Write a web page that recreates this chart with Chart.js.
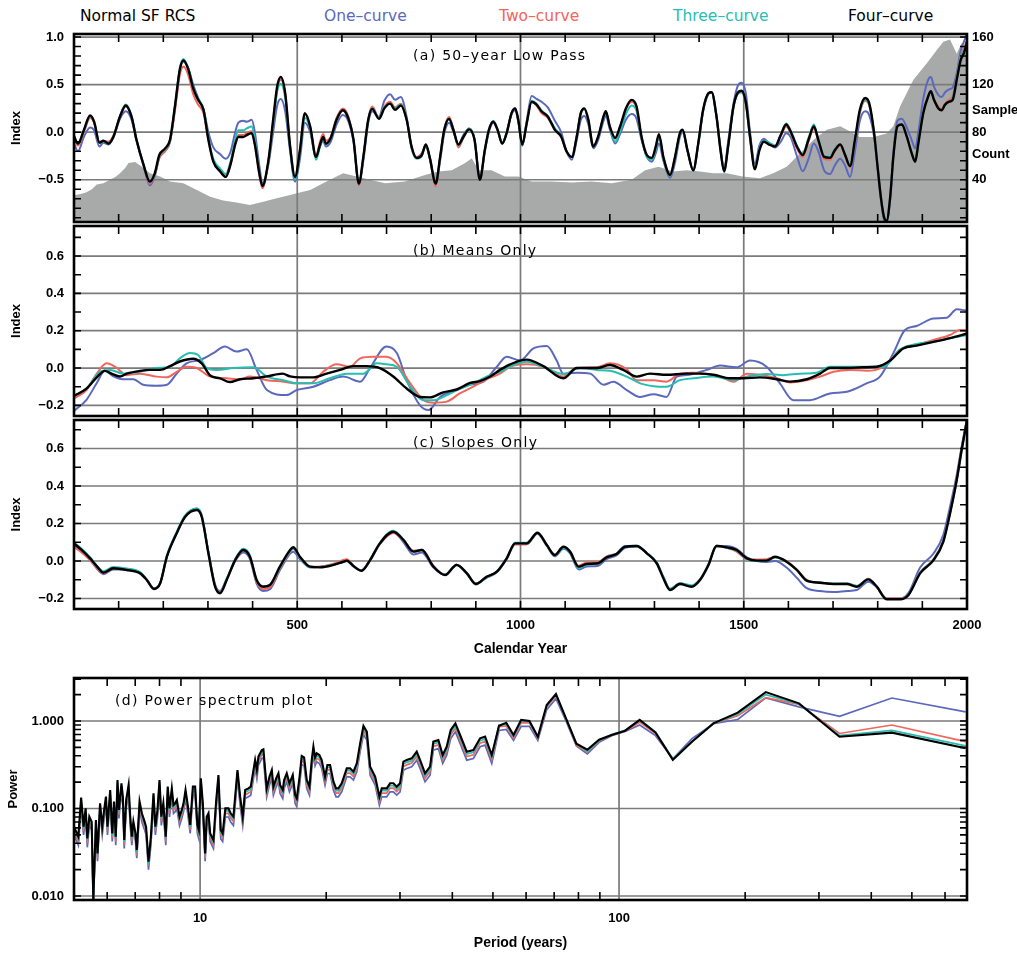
<!DOCTYPE html>
<html lang="en">
<head>
<meta charset="UTF-8">
<title>Normal SF RCS</title>
<script src="https://cdn.jsdelivr.net/npm/chart.js"></script>
<style>
  html, body { margin: 0; padding: 0; background: #fff; overflow: hidden; }
  #page { position: relative; width: 1017px; height: 953px; }
  canvas { position: absolute; left: 0; }
  .head { position: absolute; white-space: nowrap; font-family: 'DejaVu Sans', sans-serif; font-size: 15.5px; line-height: 18px; }
  .ptitle { position: absolute; white-space: nowrap; font-family: 'DejaVu Sans', sans-serif; font-size: 14px; line-height: 18px; letter-spacing: 1.3px; }
  .side { position: absolute; white-space: nowrap; font-family: 'Liberation Sans', Arial, sans-serif; font-weight: bold; font-size: 13px; line-height: 16px; }
</style>
</head>
<body>
<div id="page">
  <canvas id="chartA" width="1017" height="194" style="top:31px"></canvas>
  <canvas id="chartB" width="1017" height="196" style="top:223px"></canvas>
  <canvas id="chartC" width="1017" height="241" style="top:417px"></canvas>
  <canvas id="chartD" width="1017" height="277" style="top:675px"></canvas>

  <div class="head" style="left:80px;top:7px;color:#000">Normal SF RCS</div>
  <div class="head" style="left:324px;top:7px;color:#5b68bb">One–curve</div>
  <div class="head" style="left:499px;top:7px;color:#f2655b">Two–curve</div>
  <div class="head" style="left:673px;top:7px;color:#27bdb0">Three–curve</div>
  <div class="head" style="left:848px;top:7px;color:#000">Four–curve</div>

  <div class="ptitle" style="left:413px;top:46px">(a) 50–year Low Pass</div>
  <div class="ptitle" style="left:413px;top:241px">(b) Means Only</div>
  <div class="ptitle" style="left:413px;top:433px">(c) Slopes Only</div>
  <div class="ptitle" style="left:115px;top:691px">(d) Power spectrum plot</div>

  <div class="side" style="left:972px;top:102px">Sample</div>
  <div class="side" style="left:972px;top:146px">Count</div>
</div>

<script>
// ---------- (a) 50-year low pass ----------
const yearsA = [
  0,9,22,36,45,57,66,77,88,103,
  116,129,140,155,170,181,191,204,215,226,
  237,245,256,267,278,290,301,312,327,340,
  351,361,368,379,387,398,405,415,422,435,
  446,455,463,473,484,495,506,517,529,542,
  551,558,564,575,588,602,614,626,638,648,
  659,668,683,695,708,719,732,745,756,767,
  779,788,797,810,820,829,840,850,861,872,
  885,897,909,920,929,939,949,959,969,980,
  988,995,1004,1014,1025,1036,1047,1061,1077,1091,
  1103,1115,1126,1135,1143,1152,1163,1174,1186,1191,
  1200,1212,1223,1236,1249,1260,1271,1283,1294,1303,
  1310,1320,1335,1346,1357,1363,1374,1387,1398,1409,
  1421,1428,1439,1448,1456,1465,1477,1486,1495,1505,
  1514,1525,1535,1545,1557,1570,1583,1595,1605,1619,
  1632,1645,1657,1667,1680,1693,1704,1716,1727,1738,
  1749,1760,1772,1781,1792,1799,1807,1814,1820,1828,
  1835,1844,1854,1865,1876,1884,1891,1902,1913,1919,
  1926,1936,1943,1951,1960,1968,1977,1986,1993,2000
];
const lowPassOne = [
  -0.12,-0.20,-0.05,0.05,0.02,-0.15,-0.11,-0.13,-0.06,0.14,
  0.22,0.13,-0.09,-0.34,-0.56,-0.46,-0.27,-0.20,-0.10,0.25,
  0.65,0.74,0.67,0.50,0.36,0.24,0.0,-0.16,-0.23,-0.28,
  -0.20,0.0,0.10,0.12,0.11,0.13,0.0,-0.35,-0.54,-0.35,
  0.0,0.28,0.35,0.22,-0.20,-0.52,-0.28,0.10,0.0,-0.26,
  -0.15,-0.09,-0.15,-0.10,0.08,0.18,0.12,-0.10,-0.54,-0.30,
  0.10,0.22,0.16,0.33,0.40,0.34,0.37,0.16,-0.17,-0.27,
  -0.22,-0.15,-0.28,-0.55,-0.30,-0.02,0.10,0.0,-0.13,-0.03,
  0.04,-0.07,-0.50,-0.21,0.0,0.10,0.02,-0.12,0.0,0.19,
  0.23,0.11,-0.14,0.12,0.38,0.35,0.32,0.26,0.12,0.0,
  -0.20,-0.29,-0.08,0.13,0.17,0.08,-0.17,-0.08,0.12,0.17,
  0.03,-0.12,-0.02,0.13,0.19,0.14,-0.08,-0.26,-0.31,-0.22,
  -0.12,-0.30,-0.48,-0.32,-0.05,0.0,-0.20,-0.40,-0.13,0.22,
  0.40,0.42,0.17,-0.17,-0.38,-0.10,0.30,0.48,0.52,0.40,
  0.0,-0.33,-0.14,-0.07,-0.12,-0.16,-0.10,-0.01,-0.05,-0.25,
  -0.41,-0.28,-0.12,-0.20,-0.40,-0.44,-0.35,-0.28,-0.35,-0.47,
  -0.20,0.12,0.22,0.18,-0.05,-0.34,-0.70,-0.92,-0.95,-0.70,
  -0.22,0.12,0.14,0.05,-0.08,-0.17,0.0,0.35,0.55,0.58,
  0.48,0.39,0.37,0.42,0.45,0.47,0.62,0.86,0.95,1.03
];
const lowPassTwo = [
  -0.07,-0.14,0.0,0.15,0.10,-0.10,-0.09,-0.10,-0.04,0.16,
  0.27,0.16,-0.08,-0.33,-0.54,-0.45,-0.27,-0.20,-0.10,0.22,
  0.60,0.69,0.60,0.40,0.29,0.20,-0.08,-0.30,-0.41,-0.47,
  -0.33,-0.12,-0.03,-0.03,-0.01,0.01,-0.12,-0.45,-0.59,-0.32,
  0.10,0.44,0.55,0.40,-0.14,-0.48,-0.18,0.19,0.06,-0.25,
  -0.10,-0.02,-0.09,-0.05,0.15,0.25,0.17,-0.08,-0.56,-0.26,
  0.14,0.27,0.15,0.27,0.32,0.26,0.30,0.14,-0.15,-0.26,
  -0.23,-0.13,-0.28,-0.57,-0.26,0.03,0.16,0.03,-0.16,-0.06,
  0.03,-0.08,-0.50,-0.19,0.02,0.11,0.02,-0.12,-0.01,0.20,
  0.25,0.13,-0.13,0.10,0.32,0.28,0.20,0.15,0.02,-0.05,
  -0.20,-0.26,-0.04,0.20,0.24,0.12,-0.15,-0.04,0.17,0.22,
  0.06,-0.07,0.05,0.24,0.32,0.25,-0.05,-0.25,-0.28,-0.16,
  -0.03,-0.27,-0.45,-0.27,-0.02,0.02,-0.19,-0.40,-0.12,0.23,
  0.41,0.42,0.16,-0.19,-0.41,-0.15,0.27,0.40,0.42,0.29,
  -0.05,-0.38,-0.18,-0.10,-0.13,-0.15,-0.04,0.06,-0.01,-0.17,
  -0.26,-0.10,0.04,-0.09,-0.28,-0.29,-0.20,-0.14,-0.25,-0.37,
  -0.10,0.20,0.33,0.28,-0.02,-0.33,-0.68,-0.89,-0.93,-0.68,
  -0.26,0.06,0.08,-0.04,-0.21,-0.30,-0.11,0.21,0.38,0.43,
  0.35,0.27,0.24,0.30,0.34,0.38,0.58,0.80,0.88,0.97
];
const lowPassThree = [
  -0.05,-0.12,0.02,0.17,0.11,-0.11,-0.10,-0.12,-0.05,0.17,
  0.29,0.17,-0.08,-0.33,-0.52,-0.44,-0.25,-0.18,-0.09,0.27,
  0.67,0.77,0.67,0.47,0.35,0.24,-0.06,-0.28,-0.38,-0.44,
  -0.30,-0.08,0.02,0.02,0.04,0.06,-0.08,-0.42,-0.56,-0.32,
  0.10,0.43,0.51,0.36,-0.17,-0.50,-0.22,0.15,0.04,-0.29,
  -0.15,-0.06,-0.13,-0.06,0.13,0.23,0.15,-0.08,-0.54,-0.27,
  0.13,0.25,0.15,0.26,0.30,0.25,0.29,0.13,-0.16,-0.28,
  -0.25,-0.14,-0.27,-0.54,-0.26,0.02,0.14,0.02,-0.14,-0.05,
  0.04,-0.07,-0.50,-0.19,0.02,0.12,0.03,-0.12,0.0,0.20,
  0.25,0.12,-0.14,0.10,0.33,0.30,0.23,0.17,0.04,-0.04,
  -0.20,-0.26,-0.04,0.20,0.24,0.12,-0.15,-0.05,0.15,0.20,
  0.05,-0.10,0.01,0.19,0.28,0.22,-0.06,-0.26,-0.29,-0.18,
  -0.05,-0.28,-0.46,-0.27,-0.02,0.02,-0.19,-0.41,-0.13,0.23,
  0.41,0.42,0.16,-0.19,-0.42,-0.15,0.26,0.40,0.42,0.29,
  -0.06,-0.38,-0.17,-0.09,-0.11,-0.14,-0.02,0.09,0.02,-0.14,
  -0.23,-0.06,0.08,-0.07,-0.25,-0.26,-0.18,-0.13,-0.23,-0.35,
  -0.09,0.22,0.34,0.29,-0.02,-0.33,-0.68,-0.89,-0.93,-0.68,
  -0.26,0.06,0.08,-0.04,-0.21,-0.30,-0.11,0.21,0.38,0.43,
  0.34,0.25,0.23,0.29,0.32,0.36,0.57,0.79,0.86,0.92
];
const lowPassFour = [
  -0.04,-0.12,0.02,0.175,0.11,-0.11,-0.09,-0.12,-0.05,0.165,
  0.28,0.16,-0.08,-0.33,-0.52,-0.43,-0.24,-0.17,-0.08,0.27,
  0.66,0.755,0.66,0.46,0.34,0.235,-0.08,-0.31,-0.41,-0.47,
  -0.33,-0.13,-0.05,-0.05,-0.03,-0.01,-0.13,-0.43,-0.565,-0.31,
  0.13,0.48,0.58,0.41,-0.15,-0.47,-0.19,0.20,0.06,-0.26,
  -0.13,-0.05,-0.12,-0.06,0.13,0.23,0.15,-0.08,-0.54,-0.26,
  0.13,0.245,0.14,0.25,0.30,0.235,0.28,0.13,-0.15,-0.27,
  -0.24,-0.13,-0.27,-0.54,-0.26,0.02,0.14,0.02,-0.13,-0.05,
  0.03,-0.08,-0.50,-0.19,0.02,0.11,0.02,-0.12,-0.01,0.20,
  0.25,0.13,-0.13,0.095,0.32,0.29,0.22,0.165,0.025,-0.045,
  -0.20,-0.26,-0.045,0.20,0.25,0.13,-0.15,-0.045,0.165,0.22,
  0.06,-0.06,0.06,0.25,0.34,0.27,-0.045,-0.24,-0.27,-0.15,
  -0.02,-0.26,-0.45,-0.26,-0.01,0.025,-0.19,-0.40,-0.12,0.235,
  0.41,0.42,0.165,-0.19,-0.41,-0.15,0.27,0.41,0.435,0.305,
  -0.045,-0.39,-0.19,-0.10,-0.13,-0.15,-0.03,0.08,0.007,-0.15,
  -0.24,-0.08,0.06,-0.08,-0.26,-0.27,-0.19,-0.13,-0.24,-0.355,
  -0.08,0.235,0.36,0.305,-0.01,-0.33,-0.68,-0.89,-0.93,-0.68,
  -0.26,0.06,0.08,-0.045,-0.22,-0.31,-0.12,0.20,0.375,0.43,
  0.34,0.25,0.23,0.29,0.32,0.34,0.55,0.76,0.83,0.95
];
// sample count (right axis), [year, count]
const sampleCount = [
  [0,27],[15,28],[28,29.5],[40,32],[51,36],[66,37],[81,40],[95,43],[103,45.5],[115,50],
  [122,54],[137,55],[152,51],[170,45.5],[193,42.7],[215,38.5],[245,37],[275,31.4],[305,25.8],[334,22.5],
  [364,20.8],[394,18.8],[424,21.6],[454,24.4],[484,27.2],[499,28.6],[529,31.4],[558,37],[588,42.7],[603,45.5],
  [633,42.7],[663,40],[697,37],[741,38.5],[786,44],[816,47],[846,48],[876,54],[891,58],[906,48],
  [935,48],[965,42.7],[995,42.7],[1025,38.5],[1070,38.5],[1115,37.6],[1159,38.5],[1204,37],[1249,40],[1279,48],
  [1309,51],[1342,47],[1372,48],[1402,47],[1432,45.5],[1462,45.5],[1497,42.7],[1536,41.3],[1566,45.5],[1596,51],
  [1626,62],[1656,73.5],[1686,82],[1716,85],[1731,82],[1760,76],[1790,76],[1820,79],[1835,85],[1850,101.6],
  [1880,124],[1910,138],[1932,149],[1947,156],[1962,158],[1977,146],[1988,155],[2000,149]
];

// ---------- (b) means only, [year, index] ----------
const meansOne = [
  [0,-0.23],[28,-0.17],[51,-0.08],[69,-0.015],[88,-0.045],[110,-0.06],[133,-0.06],[155,-0.09],[185,-0.095],[208,-0.09],
  [230,-0.03],[252,0.025],[282,0.043],[312,0.08],[338,0.115],[364,0.088],[387,0.1],[409,-0.01],[432,-0.118],[476,-0.145],
  [499,-0.118],[536,-0.1],[573,-0.065],[603,-0.046],[641,-0.073],[663,0.0],[700,0.115],[723,0.08],[745,-0.065],[775,-0.2],
  [794,-0.225],[820,-0.155],[857,-0.118],[887,-0.09],[917,-0.073],[947,0.007],[969,0.06],[999,0.04],[1029,0.105],[1059,0.118],
  [1081,0.04],[1096,-0.03],[1126,-0.025],[1156,-0.03],[1186,-0.09],[1208,-0.073],[1238,-0.118],[1268,-0.155],[1298,-0.14],[1327,-0.155],
  [1350,-0.046],[1372,-0.038],[1417,-0.01],[1447,0.013],[1484,0.004],[1514,0.04],[1551,0.007],[1581,-0.082],[1611,-0.172],[1648,-0.172],
  [1693,-0.136],[1731,-0.127],[1775,-0.082],[1805,-0.046],[1835,0.08],[1861,0.204],[1887,0.225],[1925,0.266],[1955,0.27],[1977,0.315],
  [2000,0.307]
];
const meansTwo = [
  [0,-0.163],[28,-0.118],[51,-0.03],[73,0.025],[92,0.007],[118,-0.038],[148,-0.03],[185,-0.046],[208,-0.05],[230,-0.02],
  [252,0.007],[275,0.0],[305,-0.046],[342,-0.055],[372,-0.06],[394,-0.046],[432,-0.065],[469,-0.073],[499,-0.082],[529,-0.082],
  [558,-0.02],[588,0.02],[618,0.007],[641,0.052],[670,0.06],[700,0.06],[723,0.025],[753,-0.082],[782,-0.17],[805,-0.186],
  [835,-0.18],[864,-0.136],[894,-0.1],[924,-0.06],[954,-0.03],[977,0.007],[1014,0.02],[1051,0.007],[1096,-0.046],[1126,0.0],
  [1171,0.004],[1200,0.025],[1238,-0.007],[1260,-0.065],[1298,-0.065],[1327,-0.073],[1357,-0.03],[1387,-0.025],[1417,-0.032],[1447,-0.046],
  [1477,-0.073],[1507,-0.03],[1544,-0.038],[1574,-0.055],[1604,-0.077],[1641,-0.065],[1671,-0.046],[1701,-0.02],[1738,-0.01],[1775,-0.015],
  [1813,0.007],[1850,0.097],[1887,0.123],[1925,0.15],[1962,0.177],[1984,0.204],[2000,0.204]
];
const meansThree = [
  [0,-0.148],[28,-0.11],[58,-0.02],[81,-0.01],[110,-0.03],[148,-0.02],[185,0.0],[215,0.007],[237,0.052],[260,0.08],
  [278,0.07],[297,0.0],[320,-0.01],[357,0.0],[402,0.004],[432,-0.046],[469,-0.065],[499,-0.082],[536,-0.082],[573,-0.055],
  [611,-0.03],[648,-0.03],[678,0.025],[700,0.02],[723,0.007],[753,-0.1],[782,-0.172],[805,-0.172],[835,-0.145],[864,-0.11],
  [894,-0.082],[924,-0.046],[954,-0.02],[984,0.016],[1014,0.034],[1051,0.007],[1096,-0.032],[1133,0.0],[1171,-0.01],[1200,-0.015],
  [1238,-0.046],[1268,-0.082],[1298,-0.097],[1327,-0.1],[1357,-0.065],[1387,-0.055],[1432,-0.046],[1477,-0.065],[1507,-0.046],[1551,-0.032],
  [1589,-0.038],[1626,-0.03],[1663,-0.025],[1693,0.007],[1738,0.007],[1775,0.007],[1813,0.007],[1850,0.1],[1887,0.129],[1925,0.141],
  [1962,0.16],[2000,0.177]
];
const meansFour = [
  [0,-0.15],[28,-0.11],[51,-0.05],[69,-0.015],[84,-0.03],[103,-0.045],[118,-0.03],[148,-0.015],[170,-0.01],[193,-0.01],
  [215,0.01],[237,0.035],[267,0.05],[286,0.025],[305,-0.04],[327,-0.055],[349,-0.075],[372,-0.06],[402,-0.055],[432,-0.045],
  [467,-0.03],[484,-0.045],[506,-0.05],[536,-0.05],[566,-0.03],[596,-0.01],[626,0.01],[655,0.01],[685,0.0],[715,-0.045],
  [745,-0.11],[775,-0.155],[797,-0.157],[827,-0.13],[857,-0.115],[887,-0.08],[909,-0.07],[932,-0.045],[954,-0.01],[977,0.02],
  [1014,0.045],[1051,0.01],[1096,-0.055],[1126,0.0],[1171,0.0],[1200,0.016],[1230,-0.01],[1260,-0.046],[1290,-0.03],[1327,-0.036],
  [1372,-0.03],[1402,-0.03],[1432,-0.036],[1469,-0.055],[1499,-0.055],[1536,-0.05],[1574,-0.06],[1604,-0.073],[1641,-0.06],[1671,-0.03],
  [1693,0.0],[1731,0.0],[1768,0.004],[1798,0.007],[1828,0.04],[1857,0.105],[1887,0.12],[1925,0.14],[1962,0.16],[2000,0.185]
];

// ---------- (c) slopes only ----------
const yearsC = [
  0,17,36,51,66,88,118,148,163,179,
  193,208,230,249,275,286,301,316,327,342,
  361,379,394,409,424,439,461,484,491,506,
  529,551,581,603,611,626,644,663,685,715,
  738,760,779,805,831,857,880,900,924,947,
  969,988,1014,1038,1059,1077,1096,1111,1130,1148,
  1174,1193,1215,1234,1260,1283,1305,1320,1335,1357,
  1383,1402,1421,1439,1462,1484,1507,1529,1551,1570,
  1596,1619,1641,1671,1701,1731,1753,1779,1798,1820,
  1850,1869,1895,1925,1947,1962,1977,1988,2000
];
const slopesOne = [
  0.085,0.05,0.005,-0.04,-0.07,-0.045,-0.045,-0.06,-0.1,-0.145,
  -0.119,0.023,0.15,0.24,0.28,0.245,0.05,-0.125,-0.16,-0.095,
  0.0,0.045,0.01,-0.12,-0.16,-0.15,-0.05,0.04,0.05,0.01,
  -0.035,-0.03,-0.02,-0.005,0.0,-0.03,-0.05,0.0,0.09,0.155,
  0.1,0.035,0.045,-0.035,-0.075,-0.02,-0.07,-0.12,-0.09,-0.06,
  0.01,0.09,0.09,0.145,0.08,0.025,0.065,0.04,-0.045,-0.03,
  -0.025,0.01,0.03,0.07,0.078,0.04,-0.01,-0.085,-0.15,-0.12,
  -0.135,-0.1,-0.02,0.078,0.08,0.065,0.02,0.0,-0.005,0.0,
  -0.035,-0.09,-0.145,-0.16,-0.165,-0.16,-0.155,-0.11,-0.14,-0.2,
  -0.2,-0.17,-0.035,0.04,0.14,0.29,0.46,0.61,0.76
];
const slopesTwo = [
  0.075,0.045,0.005,-0.035,-0.065,-0.04,-0.045,-0.065,-0.1,-0.147,
  -0.119,0.023,0.148,0.238,0.275,0.24,0.045,-0.13,-0.165,-0.1,
  0.003,0.055,0.02,-0.11,-0.15,-0.14,-0.04,0.05,0.065,0.02,
  -0.03,-0.03,-0.015,0.005,0.01,-0.025,-0.05,0.005,0.09,0.15,
  0.11,0.055,0.06,-0.025,-0.075,-0.02,-0.065,-0.12,-0.085,-0.057,
  0.012,0.09,0.09,0.15,0.085,0.035,0.075,0.05,-0.025,-0.008,
  -0.005,0.025,0.04,0.078,0.08,0.041,-0.01,-0.09,-0.15,-0.12,
  -0.133,-0.1,-0.02,0.08,0.07,0.05,0.01,0.008,0.01,0.02,
  0.0,-0.045,-0.1,-0.115,-0.122,-0.12,-0.133,-0.095,-0.137,-0.2,
  -0.2,-0.178,-0.06,0.01,0.11,0.26,0.44,0.6,0.755
];
const slopesThree = [
  0.1,0.065,0.02,-0.025,-0.055,-0.032,-0.04,-0.06,-0.1,-0.147,
  -0.117,0.03,0.155,0.243,0.28,0.24,0.045,-0.135,-0.168,-0.095,
  0.01,0.066,0.03,-0.1,-0.135,-0.125,-0.035,0.052,0.068,0.018,
  -0.032,-0.032,-0.02,-0.004,0.0,-0.028,-0.052,0.005,0.097,0.162,
  0.115,0.052,0.06,-0.03,-0.072,-0.02,-0.066,-0.125,-0.086,-0.055,
  0.016,0.098,0.098,0.15,0.085,0.03,0.07,0.045,-0.038,-0.02,
  -0.015,0.02,0.04,0.08,0.082,0.043,-0.008,-0.085,-0.148,-0.118,
  -0.13,-0.097,-0.017,0.083,0.07,0.055,0.01,0.0,0.0,0.02,
  -0.005,-0.05,-0.105,-0.115,-0.12,-0.12,-0.133,-0.097,-0.137,-0.203,
  -0.203,-0.18,-0.063,0.008,0.105,0.255,0.43,0.59,0.75
];
const slopesFour = [
  0.094,0.059,0.014,-0.027,-0.062,-0.039,-0.048,-0.066,-0.101,-0.149,
  -0.119,0.023,0.148,0.236,0.272,0.236,0.041,-0.137,-0.172,-0.101,
  0.005,0.059,0.023,-0.101,-0.137,-0.128,-0.03,0.059,0.073,0.023,
  -0.03,-0.034,-0.021,-0.004,0.002,-0.027,-0.052,0.005,0.094,0.156,
  0.112,0.05,0.059,-0.03,-0.075,-0.021,-0.066,-0.123,-0.084,-0.057,
  0.014,0.094,0.094,0.151,0.085,0.032,0.076,0.05,-0.03,-0.016,
  -0.012,0.02,0.037,0.076,0.08,0.041,-0.012,-0.092,-0.155,-0.123,
  -0.137,-0.101,-0.021,0.08,0.073,0.059,0.014,0.002,0.002,0.023,
  -0.004,-0.048,-0.105,-0.116,-0.123,-0.123,-0.137,-0.098,-0.137,-0.204,
  -0.204,-0.181,-0.066,0.005,0.103,0.254,0.432,0.592,0.75
];

// ---------- (d) power spectrum ----------
const periods = [
  5.00,5.12,5.20,5.27,5.33,5.38,5.44,5.51,5.56,5.64,
  5.69,5.77,5.84,5.90,5.96,6.01,6.10,6.17,6.23,6.29,
  6.35,6.40,6.49,6.54,6.59,6.66,6.75,6.81,6.87,6.93,
  7.01,7.06,7.17,7.26,7.37,7.43,7.53,7.63,7.74,7.82,
  7.91,8.00,8.08,8.17,8.28,8.37,8.45,8.56,8.64,8.72,
  8.80,8.93,9.04,9.13,9.23,9.33,9.47,9.61,9.73,9.85,
  9.93,10.04,10.15,10.28,10.37,10.47,10.57,10.76,10.92,11.06,
  11.20,11.32,11.49,11.68,11.83,12.01,12.28,12.46,12.64,12.81,
  13.04,13.21,13.41,13.53,13.66,13.78,13.91,14.04,14.16,14.42,
  14.64,14.83,14.96,15.19,15.38,15.52,15.75,15.87,16.10,16.34,
  16.64,16.86,17.01,17.26,17.48,17.71,17.97,18.24,18.47,18.64,
  18.81,18.98,19.26,19.51,19.87,20.13,20.43,20.81,21.11,21.38,
  21.78,22.39,22.80,23.23,23.66,24.10,24.54,25.00,25.46,26.17,
  26.79,27.14,27.89,28.41,28.93,29.47,30.01,30.57,31.13,32.00,
  32.89,33.62,34.43,35.39,36.04,37.05,37.94,38.78,39.65,40.68,
  41.74,43.30,44.91,46.59,47.89,49.68,51.7,53.8,56.0,58.4,
  61.1,64.0,67.2,70.7,74.7,79.1,84.0,89.6,96.0,103.4,
  112.0,122.2,134.4,149.3,168.0,192.0,224.0,268.8,336.0,448.0,
  672.0
];
const powerOne = [
  0.05,0.038,0.106,0.05,0.08,0.036,0.064,0.057,0.008,0.059,
  0.025,0.092,0.05,0.077,0.109,0.05,0.13,0.042,0.096,0.038,
  0.169,0.077,0.155,0.109,0.035,0.1,0.148,0.064,0.038,0.057,
  0.042,0.027,0.096,0.07,0.057,0.05,0.02,0.038,0.119,0.05,
  0.077,0.169,0.064,0.092,0.038,0.142,0.08,0.136,0.088,0.092,
  0.1,0.064,0.077,0.092,0.13,0.092,0.052,0.142,0.142,0.052,
  0.045,0.177,0.092,0.025,0.064,0.07,0.042,0.035,0.096,0.193,
  0.045,0.042,0.08,0.08,0.07,0.064,0.22,0.109,0.064,0.13,
  0.136,0.142,0.22,0.287,0.22,0.313,0.342,0.373,0.38,0.136,
  0.185,0.22,0.142,0.177,0.202,0.148,0.13,0.169,0.202,0.155,
  0.193,0.114,0.105,0.177,0.318,0.308,0.169,0.142,0.287,0.407,
  0.308,0.342,0.327,0.287,0.185,0.251,0.251,0.162,0.136,0.136,
  0.155,0.23,0.23,0.211,0.263,0.444,0.70,0.604,0.24,0.185,
  0.109,0.136,0.136,0.155,0.155,0.142,0.155,0.274,0.287,0.30,
  0.357,0.274,0.202,0.24,0.464,0.485,0.327,0.407,0.631,0.752,
  0.553,0.357,0.373,0.507,0.53,0.327,0.78,0.8,0.6,0.87,
  0.87,0.6,1.35,1.8,1.0,0.52,0.42,0.57,0.68,0.76,
  0.9,0.68,0.37,0.63,0.93,1.04,1.84,1.45,1.13,1.83,
  1.27
];
const powerTwo = [
  0.055,0.042,0.117,0.055,0.088,0.04,0.071,0.062,0.008,0.065,
  0.027,0.101,0.055,0.085,0.12,0.055,0.143,0.046,0.105,0.042,
  0.186,0.085,0.171,0.12,0.038,0.11,0.163,0.071,0.042,0.062,
  0.046,0.029,0.105,0.078,0.062,0.055,0.022,0.042,0.131,0.055,
  0.085,0.186,0.071,0.101,0.042,0.156,0.088,0.15,0.096,0.101,
  0.11,0.071,0.085,0.101,0.143,0.101,0.057,0.156,0.156,0.057,
  0.05,0.195,0.101,0.027,0.071,0.078,0.046,0.038,0.105,0.213,
  0.05,0.046,0.088,0.088,0.078,0.071,0.242,0.12,0.071,0.143,
  0.15,0.156,0.242,0.315,0.242,0.344,0.376,0.41,0.418,0.15,
  0.203,0.242,0.156,0.195,0.222,0.163,0.143,0.186,0.222,0.171,
  0.213,0.126,0.115,0.195,0.35,0.338,0.186,0.156,0.315,0.448,
  0.338,0.376,0.36,0.315,0.203,0.277,0.277,0.178,0.15,0.15,
  0.171,0.253,0.253,0.232,0.289,0.489,0.77,0.665,0.265,0.203,
  0.12,0.15,0.15,0.171,0.171,0.156,0.171,0.302,0.315,0.33,
  0.393,0.302,0.222,0.265,0.511,0.534,0.36,0.448,0.694,0.828,
  0.609,0.393,0.41,0.558,0.583,0.36,0.86,0.88,0.64,0.95,
  0.95,0.63,1.45,1.95,1.05,0.53,0.44,0.59,0.69,0.77,
  0.97,0.72,0.365,0.58,0.94,1.15,1.85,1.55,0.72,0.9,
  0.58
];
const powerThree = [
  0.058,0.045,0.125,0.058,0.094,0.043,0.076,0.066,0.0085,0.069,
  0.029,0.108,0.058,0.09,0.128,0.058,0.153,0.049,0.113,0.045,
  0.199,0.09,0.182,0.128,0.041,0.118,0.174,0.076,0.045,0.066,
  0.049,0.031,0.113,0.083,0.066,0.058,0.023,0.045,0.14,0.058,
  0.09,0.199,0.076,0.108,0.045,0.167,0.094,0.16,0.103,0.108,
  0.118,0.076,0.09,0.108,0.153,0.108,0.061,0.167,0.167,0.061,
  0.053,0.208,0.108,0.029,0.076,0.083,0.049,0.041,0.113,0.227,
  0.053,0.049,0.094,0.094,0.083,0.076,0.259,0.128,0.076,0.153,
  0.16,0.167,0.259,0.337,0.259,0.368,0.401,0.438,0.446,0.16,
  0.217,0.259,0.167,0.208,0.237,0.174,0.153,0.199,0.237,0.182,
  0.227,0.134,0.123,0.208,0.374,0.361,0.199,0.167,0.337,0.478,
  0.361,0.401,0.384,0.337,0.217,0.295,0.295,0.19,0.16,0.16,
  0.182,0.27,0.27,0.248,0.309,0.522,0.824,0.71,0.283,0.217,
  0.128,0.16,0.16,0.182,0.182,0.167,0.182,0.322,0.337,0.352,
  0.419,0.322,0.237,0.283,0.546,0.57,0.384,0.478,0.742,0.884,
  0.65,0.419,0.438,0.596,0.622,0.384,0.9,0.92,0.67,1.0,
  0.98,0.65,1.5,2.0,1.07,0.55,0.45,0.6,0.7,0.78,
  1.02,0.74,0.37,0.58,0.94,1.2,2.0,1.57,0.68,0.78,
  0.52
];
const powerFour = [
  0.062,0.0477,0.133,0.062,0.1004,0.0456,0.0806,0.0707,0.009,0.0739,
  0.0307,0.1146,0.062,0.0961,0.1365,0.062,0.1627,0.052,0.1197,0.0477,
  0.2117,0.0961,0.194,0.1365,0.0436,0.125,0.1856,0.0806,0.0477,0.0707,
  0.052,0.0335,0.1197,0.0881,0.0707,0.062,0.0247,0.0477,0.149,0.062,
  0.0961,0.2117,0.0806,0.1146,0.0477,0.1777,0.1004,0.17,0.1096,0.1146,
  0.125,0.0806,0.0961,0.1146,0.1627,0.1146,0.0648,0.1777,0.1777,0.0648,
  0.0568,0.2212,0.1146,0.0307,0.0806,0.0881,0.052,0.0436,0.1197,0.2415,
  0.0568,0.052,0.1004,0.1004,0.0881,0.0806,0.2754,0.1365,0.0806,0.1627,
  0.17,0.1777,0.2754,0.3583,0.2754,0.3913,0.4271,0.4662,0.4745,0.17,
  0.231,0.2754,0.1777,0.2212,0.2523,0.1856,0.1627,0.2117,0.2523,0.194,
  0.2415,0.1427,0.1307,0.2212,0.398,0.3844,0.2117,0.1777,0.3583,0.5087,
  0.3844,0.4271,0.4088,0.3583,0.231,0.3143,0.3143,0.2026,0.17,0.17,
  0.194,0.2877,0.2877,0.2636,0.3282,0.5556,0.877,0.7552,0.3006,0.231,
  0.1365,0.17,0.17,0.194,0.194,0.1777,0.194,0.3428,0.3583,0.3745,
  0.4461,0.3428,0.2523,0.3006,0.5805,0.6066,0.4088,0.5087,0.789,0.9404,
  0.6918,0.4461,0.4662,0.6337,0.6622,0.4088,0.88,0.955,0.69,1.03,
  1.0,0.66,1.52,2.03,1.07,0.55,0.47,0.61,0.69,0.775,
  1.03,0.74,0.36,0.58,0.94,1.245,2.14,1.59,0.66,0.736,
  0.487
];

// ---------- tick labels ----------
const indexTicksA = [-0.5, 0, 0.5, 1.0];
const countTicks = [40, 80, 120, 160];
const indexTicksBC = [-0.2, 0, 0.2, 0.4, 0.6];
const yearTicks = [500, 1000, 1500, 2000];
const periodTicks = [10, 100];
const powerTicks = [0.01, 0.1, 1];

// minor tick marks
const centuryMarks = [];
for (let y = 100; y < 2000; y += 100) centuryMarks.push(y);
const tenthsA = [];
for (let v = -9; v <= 10; v++) tenthsA.push(v / 10);
const tenthsBC = [];
for (let v = -2; v <= 7; v++) tenthsBC.push(v / 10);
const periodMarks = [6, 7, 8, 9, 20, 30, 40, 50, 60, 70, 80, 90, 200, 300, 400, 500, 600];
const powerMarks = [];
[0.01, 0.1, 1].forEach(d => { for (let m = 1; m <= 9; m++) { if (m * d <= 3.1) powerMarks.push(m * d); } });

const COLORS = { one: '#5b68bb', two: '#f2655b', three: '#27bdb0', four: '#000000' };
const FONT = "'Liberation Sans', Arial, sans-serif";
const tickFont = { family: FONT, size: 13, weight: 'bold' };

function pts(xs, ys) {
  if (xs.length !== ys.length) throw new Error('length mismatch ' + xs.length + ' / ' + ys.length);
  return xs.map((x, i) => ({ x: x, y: ys[i] }));
}
function pairs(arr) { return arr.map(p => ({ x: p[0], y: p[1] })); }

function curve(data, color, width, order, smooth) {
  return {
    data: data, borderColor: color, borderWidth: width, pointRadius: 0, fill: false, order: order,
    cubicInterpolationMode: smooth ? 'monotone' : 'default', tension: smooth ? 0.4 : 0
  };
}

function fourCurves(d1, d2, d3, d4, smooth, w) {
  return [
    curve(d1, COLORS.one, w, 3, smooth),
    curve(d2, COLORS.two, w, 2, smooth),
    curve(d3, COLORS.three, w, 1, smooth),
    curve(d4, COLORS.four, w + 0.4, 0, smooth)
  ];
}

// fixed axis sizes, no extra label padding so chart areas land where they should
function fixWidth(w) {
  return s => { s.width = w; s.paddingTop = 0; s.paddingBottom = 0; };
}
function fixHeight(h) {
  return s => { s.height = h; s.paddingLeft = 0; s.paddingRight = 0; };
}

// grid lines, inward tick marks and heavy frame
function framePlugin(cfg) {
  function grid(chart) {
    const ctx = chart.ctx, a = chart.chartArea;
    const xs = chart.scales.x, ys = chart.scales.y;
    ctx.save();
    ctx.strokeStyle = '#7b7b7b';
    ctx.lineWidth = 1.7;
    ctx.beginPath();
    cfg.xGrid.forEach(v => { const px = xs.getPixelForValue(v); ctx.moveTo(px, a.top); ctx.lineTo(px, a.bottom); });
    cfg.yGrid.forEach(v => { const py = ys.getPixelForValue(v); ctx.moveTo(a.left, py); ctx.lineTo(a.right, py); });
    ctx.stroke();
    ctx.restore();
  }
  return {
    id: 'frame',
    beforeDatasetsDraw(chart) { if (cfg.gridAfter == null) grid(chart); },
    afterDatasetDraw(chart, args) { if (args.index === cfg.gridAfter) grid(chart); },
    afterDatasetsDraw(chart) {
      const ctx = chart.ctx, a = chart.chartArea;
      const xs = chart.scales.x, ys = chart.scales.y;
      ctx.save();
      ctx.strokeStyle = '#000';
      ctx.lineWidth = 1.6;
      ctx.beginPath();
      cfg.xMarks.forEach(v => {
        const px = xs.getPixelForValue(v);
        ctx.moveTo(px, a.top); ctx.lineTo(px, a.top + 8);
        ctx.moveTo(px, a.bottom); ctx.lineTo(px, a.bottom - 8);
      });
      cfg.yMarks.forEach(v => {
        const py = ys.getPixelForValue(v);
        ctx.moveTo(a.left, py); ctx.lineTo(a.left + 7, py);
        ctx.moveTo(a.right, py); ctx.lineTo(a.right - 7, py);
      });
      ctx.stroke();
      ctx.lineWidth = 2.6;
      ctx.strokeRect(a.left, a.top, a.right - a.left, a.bottom - a.top);
      ctx.restore();
    }
  };
}

function indexAxis(min, max, ticks, titlePad) {
  return {
    type: 'linear', position: 'left', min: min, max: max,
    grid: { display: false, drawTicks: false }, border: { display: false },
    ticks: { padding: 10, color: '#000', font: tickFont, callback: v => v.toFixed(1).replace('-', '\u2212') },
    afterBuildTicks: s => { s.ticks = ticks.map(v => ({ value: v })); },
    afterFit: fixWidth(74),
    title: { display: true, text: 'Index', color: '#000', font: tickFont, padding: { top: titlePad, bottom: 0 } }
  };
}

function baseOptions(scales, padding) {
  return {
    responsive: false, animation: false, events: [],
    layout: { padding: padding },
    plugins: { legend: { display: false }, tooltip: { enabled: false } },
    scales: scales
  };
}

Chart.defaults.font.family = FONT;
Chart.defaults.color = '#000';

// ---- panel (a)
new Chart(document.getElementById('chartA'), {
  type: 'line',
  data: {
    datasets: [
      { data: pairs(sampleCount), yAxisID: 'yc', fill: 'start', backgroundColor: '#a8aaaa',
        borderWidth: 0, pointRadius: 0, tension: 0, order: 10 }
    ].concat(fourCurves(pts(yearsA, lowPassOne), pts(yearsA, lowPassTwo), pts(yearsA, lowPassThree), pts(yearsA, lowPassFour), true, 2))
  },
  options: baseOptions({
    x: { type: 'linear', min: 0, max: 2000, display: false },
    y: indexAxis(-0.944, 1.032, indexTicksA, 9),
    yc: {
      type: 'linear', position: 'right', min: 4.48, max: 162.56,
      grid: { display: false, drawTicks: false }, border: { display: false },
      ticks: { padding: 5, color: '#000', font: tickFont, callback: v => String(v) },
      afterBuildTicks: s => { s.ticks = countTicks.map(v => ({ value: v })); },
      afterFit: fixWidth(50)
    }
  }, { top: 3, bottom: 3, left: 0, right: 0 }),
  plugins: [framePlugin({ xGrid: [500, 1000, 1500], yGrid: indexTicksA, xMarks: centuryMarks, yMarks: tenthsA, gridAfter: 0 })]
});

// ---- panel (b)
new Chart(document.getElementById('chartB'), {
  type: 'line',
  data: { datasets: fourCurves(pairs(meansOne), pairs(meansTwo), pairs(meansThree), pairs(meansFour), true, 2) },
  options: baseOptions({
    x: { type: 'linear', min: 0, max: 2000, display: false },
    y: indexAxis(-0.257, 0.761, indexTicksBC, 9)
  }, { top: 3, bottom: 3, left: 0, right: 50 }),
  plugins: [framePlugin({ xGrid: [500, 1000, 1500], yGrid: indexTicksBC, xMarks: centuryMarks, yMarks: tenthsBC })]
});

// ---- panel (c)
new Chart(document.getElementById('chartC'), {
  type: 'line',
  data: { datasets: fourCurves(pts(yearsC, slopesOne), pts(yearsC, slopesTwo), pts(yearsC, slopesThree), pts(yearsC, slopesFour), true, 2) },
  options: baseOptions({
    x: {
      type: 'linear', min: 0, max: 2000, position: 'bottom',
      grid: { display: false, drawTicks: false }, border: { display: false },
      ticks: { padding: 9, color: '#000', font: tickFont, maxRotation: 0, callback: v => String(v) },
      afterBuildTicks: s => { s.ticks = yearTicks.map(v => ({ value: v })); },
      afterFit: fixHeight(49),
      title: { display: true, text: 'Calendar Year', color: '#000', font: { family: FONT, size: 14, weight: 'bold' }, padding: 0 }
    },
    y: indexAxis(-0.256, 0.752, indexTicksBC, 9)
  }, { top: 3, bottom: 0, left: 0, right: 50 }),
  plugins: [framePlugin({ xGrid: [500, 1000, 1500], yGrid: indexTicksBC, xMarks: centuryMarks, yMarks: tenthsBC })]
});

// ---- panel (d)
new Chart(document.getElementById('chartD'), {
  type: 'line',
  data: { datasets: fourCurves(pts(periods, powerOne), pts(periods, powerTwo), pts(periods, powerThree), pts(periods, powerFour), false, 1.7) },
  options: baseOptions({
    x: {
      type: 'logarithmic', min: 5.0, max: 677, position: 'bottom',
      grid: { display: false, drawTicks: false }, border: { display: false },
      ticks: { padding: 11, color: '#000', font: tickFont, maxRotation: 0, callback: v => String(v) },
      afterBuildTicks: s => { s.ticks = periodTicks.map(v => ({ value: v })); },
      afterFit: fixHeight(52),
      title: { display: true, text: 'Period (years)', color: '#000', font: { family: FONT, size: 14, weight: 'bold' }, padding: 0 }
    },
    y: {
      type: 'logarithmic', position: 'left', min: 0.009, max: 3.1,
      grid: { display: false, drawTicks: false }, border: { display: false },
      ticks: { padding: 10, color: '#000', font: tickFont, callback: v => Number(v).toFixed(3) },
      afterBuildTicks: s => { s.ticks = powerTicks.map(v => ({ value: v })); },
      afterFit: fixWidth(74),
      title: { display: true, text: 'Power', color: '#000', font: tickFont, padding: { top: 6, bottom: 0 } }
    }
  }, { top: 3, bottom: 0, left: 0, right: 50 }),
  plugins: [framePlugin({ xGrid: periodTicks, yGrid: powerTicks, xMarks: periodMarks, yMarks: powerMarks })]
});
</script>
</body>
</html>
